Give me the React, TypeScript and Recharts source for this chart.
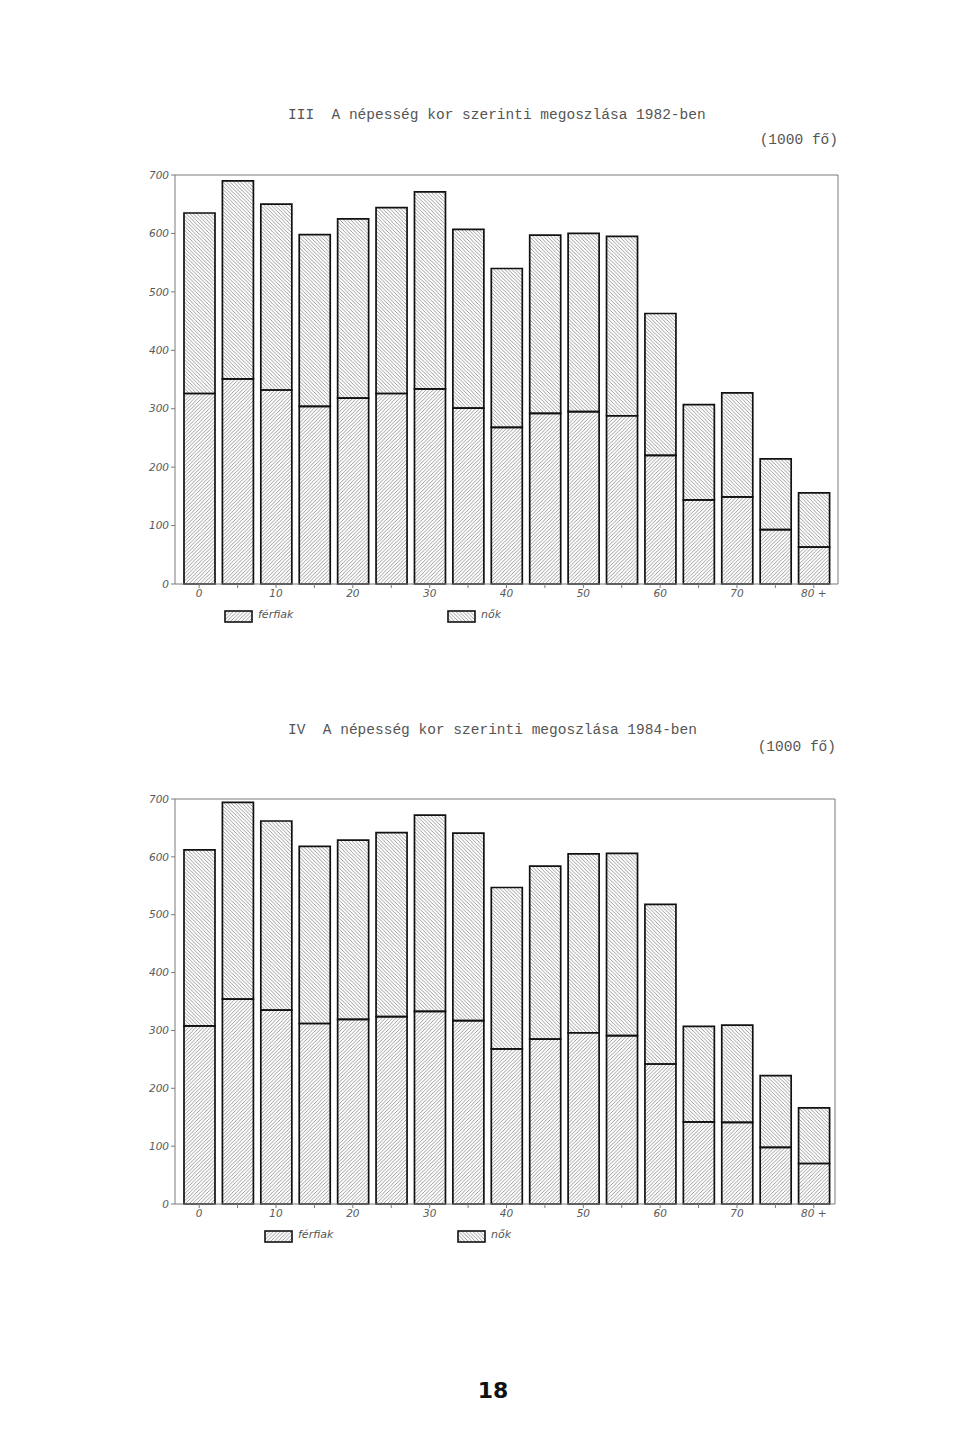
import React from "react";
import { ComposedChart, Bar, Line, XAxis, YAxis } from "recharts";

// korcsoportok (5 éves)
const ageGroups = ["0", "5", "10", "15", "20", "25", "30", "35", "40", "45", "50", "55", "60", "65", "70", "75", "80 +"];
const tickLabels = ["0", "10", "20", "30", "40", "50", "60", "70", "80 +"];
const yTicks = [0, 100, 200, 300, 400, 500, 600, 700];

// 1982 (1000 fő)
const men1982 = [326, 351, 332, 304, 318, 326, 334, 301, 268, 292, 295, 288, 220, 144, 149, 93, 63];
const women1982 = [309, 339, 318, 294, 307, 318, 337, 306, 272, 305, 305, 307, 243, 163, 178, 121, 93];

// 1984 (1000 fő)
const men1984 = [308, 354, 335, 312, 319, 324, 333, 317, 268, 285, 296, 291, 242, 142, 141, 98, 70];
const women1984 = [304, 340, 327, 306, 310, 318, 339, 324, 279, 299, 309, 315, 276, 165, 168, 124, 96];

const buildRows = (men: number[], women: number[]) =>
  ageGroups.map((age, i) => ({ age, ferfiak: men[i], nok: women[i] }));

const axisColor = "#7a7a7a";
const labelFont = { fill: "#5a5a5a", fontSize: 10.5, fontStyle: "italic", fontFamily: "DejaVu Sans" };
const monoFont = "'Liberation Mono', 'DejaVu Sans Mono', monospace";

function Patterns() {
  return (
    <svg width={0} height={0} style={{ position: "absolute" }}>
      <defs>
        <pattern id="hatchMen" patternUnits="userSpaceOnUse" width={3.6} height={3.6}>
          <path d="M0,3.6 L3.6,0 M-1,1 L1,-1 M2.6,4.6 L4.6,2.6" stroke="#8a8a8a" strokeWidth={0.85} />
        </pattern>
        <pattern id="hatchWomen" patternUnits="userSpaceOnUse" width={3.6} height={3.6}>
          <path d="M0,0 L3.6,3.6 M-1,2.6 L1,4.6 M2.6,-1 L4.6,1" stroke="#8a8a8a" strokeWidth={0.85} />
        </pattern>
      </defs>
    </svg>
  );
}

function Swatch({ fill }: { fill: string }) {
  return (
    <svg width={29} height={13} style={{ display: "block" }}>
      <rect x={1} y={1} width={27} height={11} fill={fill} stroke="#111" strokeWidth={1.6} />
    </svg>
  );
}

function Legend({ top, x1, x2 }: { top: number; x1: number; x2: number }) {
  const textStyle: React.CSSProperties = {
    position: "absolute", top: -2, left: 34, fontSize: 11, fontStyle: "italic",
    fontFamily: "DejaVu Sans", color: "#555", whiteSpace: "nowrap",
  };
  return (
    <>
      <div style={{ position: "absolute", left: x1, top }}>
        <Swatch fill="url(#hatchMen)" />
        <span style={textStyle}>férfiak</span>
      </div>
      <div style={{ position: "absolute", left: x2, top }}>
        <Swatch fill="url(#hatchWomen)" />
        <span style={textStyle}>nők</span>
      </div>
    </>
  );
}

function AgeChart({ men, women, top, marginTop, marginRight, padRight }: {
  men: number[]; women: number[]; top: number; marginTop: number; marginRight: number; padRight: number;
}) {
  const data = buildRows(men, women);
  return (
    <div style={{ position: "absolute", left: 0, top }}>
      <ComposedChart
        width={960}
        height={480}
        data={data}
        margin={{ top: marginTop - 1, right: marginRight - 1, left: 140, bottom: 26 }}
        barSize={31}
      >
        <XAxis
          dataKey="age"
          interval={0}
          padding={{ left: 5, right: padRight }}
          tickFormatter={(v: string) => (tickLabels.includes(v) ? v : "")}
          tick={labelFont}
          tickSize={4}
          height={20}
          axisLine={{ stroke: axisColor }}
          tickLine={{ stroke: axisColor }}
        />
        {/* keret: felső és jobb oldali vonal */}
        <XAxis
          xAxisId="frame"
          orientation="top"
          dataKey="age"
          tick={false}
          tickLine={false}
          height={1}
          axisLine={{ stroke: axisColor }}
        />
        <YAxis
          domain={[0, 700]}
          ticks={yTicks}
          width={35}
          tickSize={4}
          tick={labelFont}
          axisLine={{ stroke: axisColor }}
          tickLine={{ stroke: axisColor }}
        />
        <YAxis
          yAxisId="frame"
          orientation="right"
          domain={[0, 700]}
          tick={false}
          tickLine={false}
          width={1}
          axisLine={{ stroke: axisColor }}
        />
        <Bar dataKey="ferfiak" stackId="a" fill="url(#hatchMen)" stroke="#111" strokeWidth={1.7} isAnimationActive={false} />
        <Bar dataKey="nok" stackId="a" fill="url(#hatchWomen)" stroke="#111" strokeWidth={1.7} isAnimationActive={false} />
        <Line
          xAxisId="frame"
          yAxisId="frame"
          dataKey="nok"
          stroke="#fff"
          strokeOpacity={0}
          dot={false}
          activeDot={false}
          legendType="none"
          isAnimationActive={false}
        />
      </ComposedChart>
    </div>
  );
}

export default function App() {
  const titleStyle: React.CSSProperties = {
    position: "absolute", fontFamily: monoFont, fontSize: 14.5, color: "#555", whiteSpace: "pre",
  };
  return (
    <div style={{ position: "absolute", left: 0, top: 0, width: 960, height: 1429, background: "#fff" }}>
      <Patterns />

      {/* III. 1982 */}
      <div style={{ ...titleStyle, left: 288, top: 107 }}>III  A népesség kor szerinti megoszlása 1982-ben</div>
      <div style={{ ...titleStyle, right: 122, top: 132 }}>(1000 fő)</div>
      <AgeChart men={men1982} women={women1982} top={150} marginTop={25} marginRight={122} padRight={5} />
      <Legend top={610} x1={224} x2={447} />

      {/* IV. 1984 */}
      <div style={{ ...titleStyle, left: 288, top: 722 }}>IV  A népesség kor szerinti megoszlása 1984-ben</div>
      <div style={{ ...titleStyle, right: 124, top: 739 }}>(1000 fő)</div>
      <AgeChart men={men1984} women={women1984} top={770} marginTop={29} marginRight={125} padRight={2} />
      <Legend top={1230} x1={264} x2={457} />

      <div style={{
        position: "absolute", left: 0, width: 986, top: 1378, textAlign: "center",
        fontFamily: "'DejaVu Sans', sans-serif", fontWeight: 700, fontSize: 22, color: "#111",
      }}>18</div>
    </div>
  );
}
